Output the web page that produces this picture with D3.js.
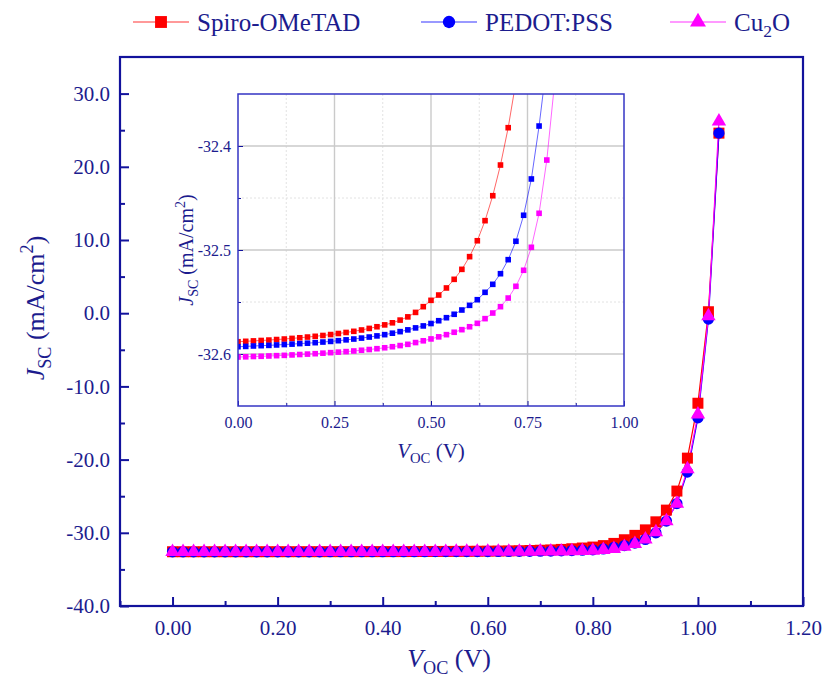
<!DOCTYPE html>
<html>
<head>
<meta charset="utf-8">
<script src="https://cdn.jsdelivr.net/npm/d3@7"></script>
<style>
  body { margin: 0; background: #fff; }
  text { font-family: "Liberation Serif", "Times New Roman", serif; }
</style>
</head>
<body>
<div id="chart"></div>
<script>
// voltage points (V)
const voltage = [0.00, 0.02, 0.04, 0.06, 0.08, 0.10, 0.12, 0.14, 0.16, 0.18,
  0.20, 0.22, 0.24, 0.26, 0.28, 0.30, 0.32, 0.34, 0.36, 0.38,
  0.40, 0.42, 0.44, 0.46, 0.48, 0.50, 0.52, 0.54, 0.56, 0.58,
  0.60, 0.62, 0.64, 0.66, 0.68, 0.70, 0.72, 0.74, 0.76, 0.78,
  0.80, 0.82, 0.84, 0.86, 0.88, 0.90, 0.92, 0.94, 0.96, 0.98,
  1.00, 1.02, 1.04];

// current density (mA/cm2) for each HTL
const spiro = [-32.5882, -32.5878, -32.5874, -32.5870, -32.5866, -32.5861, -32.5856, -32.5850, -32.5844, -32.5837,
  -32.5830, -32.5822, -32.5813, -32.5803, -32.5793, -32.5782, -32.5769, -32.5754, -32.5738, -32.5720,
  -32.5700, -32.5674, -32.5643, -32.5600, -32.5545, -32.5484, -32.5433, -32.5365, -32.5282, -32.5186,
  -32.5064, -32.4911, -32.4718, -32.4478, -32.4183, -32.3824, -32.338, -32.27, -32.18, -32.08,
  -31.95, -31.75, -31.45, -30.95, -30.35, -29.6, -28.5, -26.9, -24.3, -19.8,
  -12.3, 0.2, 24.6];
const pedot = [-32.5930, -32.5927, -32.5923, -32.5920, -32.5917, -32.5913, -32.5909, -32.5905, -32.5900, -32.5896,
  -32.5891, -32.5885, -32.5879, -32.5872, -32.5864, -32.5856, -32.5847, -32.5837, -32.5826, -32.5814,
  -32.5800, -32.5785, -32.5768, -32.5749, -32.5730, -32.5707, -32.5680, -32.5651, -32.5618, -32.5577,
  -32.5532, -32.5478, -32.5407, -32.5330, -32.5228, -32.5093, -32.4916, -32.4666, -32.4317, -32.3808,
  -32.32, -32.2, -32.0, -31.75, -31.4, -30.9, -30.0, -28.4, -26.0, -21.7,
  -14.3, -0.8, 24.6];
const cu2o = [-32.6029, -32.6027, -32.6024, -32.6022, -32.6019, -32.6016, -32.6013, -32.6009, -32.6005, -32.6001,
  -32.5997, -32.5992, -32.5987, -32.5982, -32.5977, -32.5971, -32.5964, -32.5957, -32.5949, -32.5940,
  -32.5930, -32.5919, -32.5907, -32.5890, -32.5873, -32.5855, -32.5835, -32.5814, -32.5791, -32.5766,
  -32.5738, -32.5705, -32.5660, -32.5606, -32.5545, -32.5462, -32.5349, -32.5195, -32.4974, -32.4647,
  -32.4135, -32.34, -32.2, -31.9, -31.5, -30.9, -29.9, -28.4, -26.0, -21.3,
  -13.8, -0.4, 26.2];

const seriesNames = ["Spiro-OMeTAD", "PEDOT:PSS", "Cu2O"];
const seriesColors = ["#ff0000", "#0000ff", "#ff00ff"];
const seriesSymbols = [d3.symbolSquare, d3.symbolCircle, d3.symbolTriangle];

// tick values
const mainXTicks = [0, 0.2, 0.4, 0.6, 0.8, 1.0, 1.2];
const mainXMinor = [-0.1, 0.1, 0.3, 0.5, 0.7, 0.9, 1.1];
const mainYTicks = [-40, -30, -20, -10, 0, 10, 20, 30];
const mainYMinor = [-35, -25, -15, -5, 5, 15, 25];
const insetXTicks = [0, 0.25, 0.5, 0.75, 1.0];
const insetXMinor = [0.125, 0.375, 0.625, 0.875];
const insetYTicks = [-32.6, -32.5, -32.4];
const insetYMinor = [-32.55, -32.45];

const axisColor = "#12129c";
const textColor = "#1c1c8e";

const series = [spiro, pedot, cu2o].map((vals, i) => ({
  name: seriesNames[i],
  color: seriesColors[i],
  symbol: seriesSymbols[i],
  points: voltage.map((v, j) => ({ v: v, j: vals[j] }))
}));

const svg = d3.select("#chart").append("svg")
  .attr("width", 826).attr("height", 679);

// helper: text with sub / superscripts
function richText(sel, parts, size) {
  let shift = 0;
  parts.forEach(p => {
    const target = p.sub ? 0.25 : p.sup ? -0.42 : 0;
    const ts = sel.append("tspan").text(p.t)
      .attr("font-size", (p.sub || p.sup) ? size * 0.7 : size)
      .attr("dy", (target - shift) * size);
    if (p.it) ts.attr("font-style", "italic");
    shift = target;
  });
}

// ---------------- main plot ----------------
const x = d3.scaleLinear().domain([-0.1, 1.2]).range([120, 803]);
const y = d3.scaleLinear().domain([-40, 35]).range([606, 57]);

// ticks (inside)
svg.append("g")
  .attr("transform", "translate(0,606)")
  .call(d3.axisBottom(x).tickValues(mainXMinor).tickSize(-5).tickFormat(""))
  .call(g => g.select(".domain").remove())
  .call(g => g.selectAll("line").attr("stroke", axisColor).attr("stroke-width", 2));
svg.append("g")
  .attr("transform", "translate(0,606)")
  .call(d3.axisBottom(x).tickValues(mainXTicks).tickSize(-9).tickPadding(14).tickFormat(d => d.toFixed(2)))
  .call(g => g.select(".domain").remove())
  .call(g => g.selectAll("line").attr("stroke", axisColor).attr("stroke-width", 2))
  .call(g => g.selectAll("text").attr("fill", textColor).attr("font-size", 21)
    .attr("font-family", "Liberation Serif"));

svg.append("g")
  .attr("transform", "translate(120,0)")
  .call(d3.axisLeft(y).tickValues(mainYMinor).tickSize(-5).tickFormat(""))
  .call(g => g.select(".domain").remove())
  .call(g => g.selectAll("line").attr("stroke", axisColor).attr("stroke-width", 2));
svg.append("g")
  .attr("transform", "translate(120,0)")
  .call(d3.axisLeft(y).tickValues(mainYTicks).tickSize(-9).tickPadding(10).tickFormat(d => d.toFixed(1)))
  .call(g => g.select(".domain").remove())
  .call(g => g.selectAll("line").attr("stroke", axisColor).attr("stroke-width", 2))
  .call(g => g.selectAll("text").attr("fill", textColor).attr("font-size", 21)
    .attr("font-family", "Liberation Serif"));

svg.append("rect")
  .attr("x", 120).attr("y", 57).attr("width", 683).attr("height", 549)
  .attr("fill", "none").attr("stroke", axisColor).attr("stroke-width", 2.2);

// axis titles
const xt = svg.append("text").attr("x", 449).attr("y", 667)
  .attr("text-anchor", "middle").attr("fill", textColor);
richText(xt, [{ t: "V", it: true }, { t: "OC", sub: true }, { t: " (V)" }], 26);

const yt = svg.append("text").attr("transform", "translate(44,308) rotate(-90)")
  .attr("text-anchor", "middle").attr("fill", textColor);
richText(yt, [{ t: "J", it: true }, { t: "SC", sub: true }, { t: " (mA/cm" }, { t: "2", sup: true }, { t: ")" }], 26);

// lines and markers
const mainLine = d3.line().x(d => x(d.v)).y(d => y(d.j));
const markerSize = [121, 100, 90];

series.forEach((s, i) => {
  svg.append("path").datum(s.points)
    .attr("d", mainLine).attr("fill", "none")
    .attr("stroke", s.color).attr("stroke-width", 1.2);
});
series.forEach((s, i) => {
  svg.append("g").selectAll("path")
    .data(s.points)
    .join("path")
    .attr("transform", d => `translate(${x(d.v)},${y(d.j)})`)
    .attr("d", d3.symbol().type(s.symbol).size(markerSize[i]))
    .attr("fill", s.color);
});

// legend
const legendX = [161, 449, 698];
series.forEach((s, i) => {
  const cx = legendX[i];
  svg.append("line").attr("x1", cx - 28).attr("x2", cx + 28).attr("y1", 22).attr("y2", 22)
    .attr("stroke", s.color).attr("stroke-width", 1).attr("stroke-opacity", 0.8);
  svg.append("path").attr("transform", `translate(${cx},22)`)
    .attr("d", d3.symbol().type(s.symbol).size(markerSize[i] + 20)).attr("fill", s.color);
  const t = svg.append("text").attr("x", cx + 36).attr("y", 31).attr("fill", textColor);
  if (s.name === "Cu2O") {
    richText(t, [{ t: "Cu" }, { t: "2", sub: true }, { t: "O" }], 25);
  } else {
    t.attr("font-size", 25).text(s.name);
  }
});

// ---------------- inset ----------------
const ix = d3.scaleLinear().domain([0, 1]).range([238, 624]);
const iy = d3.scaleLinear().domain([-32.65, -32.35]).range([406, 94]);

const inset = svg.append("g");
inset.append("rect").attr("x", 238).attr("y", 94).attr("width", 386).attr("height", 312)
  .attr("fill", "#fff");

// grid
inset.append("g").selectAll("line").data(insetXMinor).join("line")
  .attr("x1", d => ix(d)).attr("x2", d => ix(d)).attr("y1", 94).attr("y2", 406)
  .attr("stroke", "#e2e2e2").attr("stroke-dasharray", "2,2");
inset.append("g").selectAll("line").data(insetYMinor).join("line")
  .attr("y1", d => iy(d)).attr("y2", d => iy(d)).attr("x1", 238).attr("x2", 624)
  .attr("stroke", "#e2e2e2").attr("stroke-dasharray", "2,2");
inset.append("g").selectAll("line").data(insetXTicks.slice(1, 4)).join("line")
  .attr("x1", d => ix(d)).attr("x2", d => ix(d)).attr("y1", 94).attr("y2", 406)
  .attr("stroke", "#cacaca").attr("stroke-width", 1.4);
inset.append("g").selectAll("line").data(insetYTicks).join("line")
  .attr("y1", d => iy(d)).attr("y2", d => iy(d)).attr("x1", 238).attr("x2", 624)
  .attr("stroke", "#cacaca").attr("stroke-width", 1.4);

// axes
inset.append("g").attr("transform", "translate(0,406)")
  .call(d3.axisBottom(ix).tickValues(insetXMinor).tickSize(-3).tickFormat(""))
  .call(g => g.select(".domain").remove())
  .call(g => g.selectAll("line").attr("stroke", axisColor));
inset.append("g").attr("transform", "translate(0,406)")
  .call(d3.axisBottom(ix).tickValues(insetXTicks).tickSize(-5).tickPadding(11).tickFormat(d => d.toFixed(2)))
  .call(g => g.select(".domain").remove())
  .call(g => g.selectAll("line").attr("stroke", axisColor))
  .call(g => g.selectAll("text").attr("fill", textColor).attr("font-size", 16)
    .attr("font-family", "Liberation Serif"));
inset.append("g").attr("transform", "translate(238,0)")
  .call(d3.axisLeft(iy).tickValues(insetYMinor).tickSize(-3).tickFormat(""))
  .call(g => g.select(".domain").remove())
  .call(g => g.selectAll("line").attr("stroke", axisColor));
inset.append("g").attr("transform", "translate(238,0)")
  .call(d3.axisLeft(iy).tickValues(insetYTicks).tickSize(-5).tickPadding(7).tickFormat(d => d.toFixed(1)))
  .call(g => g.select(".domain").remove())
  .call(g => g.selectAll("line").attr("stroke", axisColor))
  .call(g => g.selectAll("text").attr("fill", textColor).attr("font-size", 16)
    .attr("font-family", "Liberation Serif"));

inset.append("clipPath").attr("id", "insetClip")
  .append("rect").attr("x", 238).attr("y", 94).attr("width", 386).attr("height", 312);

const insetLine = d3.line().x(d => ix(d.v)).y(d => iy(d.j));
const plotArea = inset.append("g").attr("clip-path", "url(#insetClip)");
series.forEach(s => {
  plotArea.append("path").datum(s.points)
    .attr("d", insetLine).attr("fill", "none")
    .attr("stroke", s.color).attr("stroke-width", 1).attr("stroke-opacity", 0.6);
});
series.forEach(s => {
  plotArea.append("g").selectAll("rect")
    .data(s.points.filter(d => d.j < -32.35 && d.v <= 1))
    .join("rect")
    .attr("x", d => ix(d.v) - 2.8).attr("y", d => iy(d.j) - 2.8)
    .attr("width", 5.6).attr("height", 5.6)
    .attr("fill", s.color);
});

inset.append("rect").attr("x", 238).attr("y", 94).attr("width", 386).attr("height", 312)
  .attr("fill", "none").attr("stroke", "#3434c4").attr("stroke-width", 1.5);

const ixt = inset.append("text").attr("x", 431).attr("y", 458)
  .attr("text-anchor", "middle").attr("fill", textColor);
richText(ixt, [{ t: "V", it: true }, { t: "OC", sub: true }, { t: " (V)" }], 21);

const iyt = inset.append("text").attr("transform", "translate(193,250) rotate(-90)")
  .attr("text-anchor", "middle").attr("fill", textColor);
richText(iyt, [{ t: "J", it: true }, { t: "SC", sub: true }, { t: " (mA/cm" }, { t: "2", sup: true }, { t: ")" }], 20);
</script>
</body>
</html>
